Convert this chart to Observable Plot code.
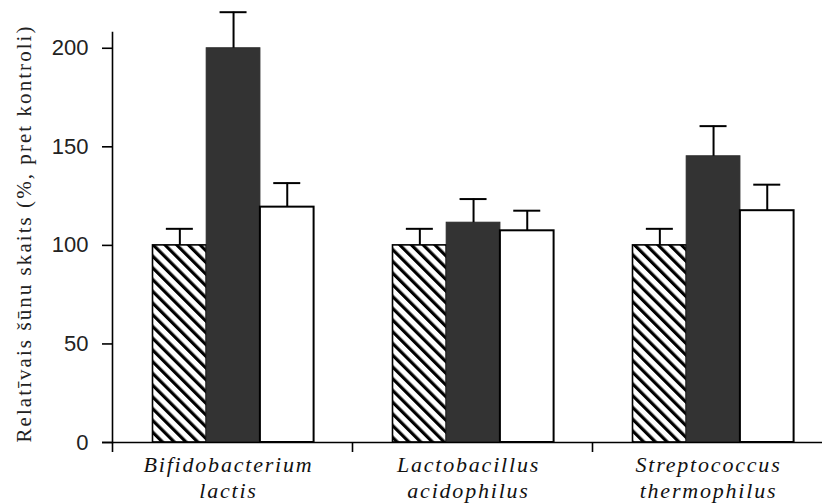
<!DOCTYPE html>
<html>
<head>
<meta charset="utf-8">
<script src="https://cdn.jsdelivr.net/npm/d3@7"></script>
<script src="https://cdn.jsdelivr.net/npm/@observablehq/plot@0.6"></script>
<style>
  html, body { margin: 0; padding: 0; background: #ffffff; }
  #chart svg { display: block; }
</style>
</head>
<body>
<div id="chart"></div>
<script>
// ---- data ----
const categories = ["Bifidobacterium\nlactis", "Lactobacillus\nacidophilus", "Streptococcus\nthermophilus"];
const seriesNames = ["kontrole", "A", "B"];
const valuesHatched = [100, 100, 100];
const errHatched = [8.4, 8.4, 8.4];
const valuesDark = [200, 111.5, 145.2];
const errDark = [18.3, 12.0, 15.3];
const valuesWhite = [119.4, 107.4, 117.6];
const errWhite = [12.2, 10.2, 13.2];
const yTicks = [0, 50, 100, 150, 200];
const yLabel = "Relatīvais šūnu skaits (%, pret kontroli)";

// ---- layout ----
const W = 822, H = 504;
const mLeft = 112, mTop = 32, mBottom = 62;
const xRange = [112, 832];
const band = (xRange[1] - xRange[0]) / categories.length;
const pad = 40.5, barW = 53.7, capW = 27;

const seriesValues = [valuesHatched, valuesDark, valuesWhite];
const seriesErr = [errHatched, errDark, errWhite];
const rows = (i) => categories.map((c, k) => ({cat: c, v: seriesValues[i][k], e: seriesErr[i][k]}));

const barStyles = [
  {fill: "url(#hatch)", stroke: "#000", strokeWidth: 1.6},
  {fill: "#333333", stroke: "#2a2a2a", strokeWidth: 1},
  {fill: "#ffffff", stroke: "#000", strokeWidth: 2}
];

const defs = () => {
  const d = d3.create("svg:defs");
  const p = d.append("pattern").attr("id", "hatch")
    .attr("patternUnits", "userSpaceOnUse")
    .attr("width", 8.3).attr("height", 8.3)
    .attr("patternTransform", "rotate(-45)");
  p.append("rect").attr("width", 8.3).attr("height", 8.3).attr("fill", "#fff");
  p.append("rect").attr("width", 3.2).attr("height", 8.3).attr("fill", "#000");
  return d.node();
};

const serifFont = "'Liberation Serif', 'Times New Roman', serif";

const marks = [defs];
seriesNames.forEach((s, i) => {
  const iL = pad + i * barW;
  const iR = band - pad - (i + 1) * barW;
  marks.push(Plot.barY(rows(i), {x: "cat", y: "v", insetLeft: iL, insetRight: iR, ...barStyles[i]}));
  marks.push(Plot.ruleX(rows(i), {x: "cat", y1: "v", y2: d => d.v + d.e, dx: -band / 2 + pad + (i + 0.5) * barW, stroke: "#000", strokeWidth: 2}));
  marks.push(Plot.tickY(rows(i), {x: "cat", y: d => d.v + d.e, insetLeft: iL + (barW - capW) / 2, insetRight: iR + (barW - capW) / 2, stroke: "#000", strokeWidth: 2}));
});

// axes
marks.push(Plot.ruleY([0], {insetLeft: -10, stroke: "#000", strokeWidth: 1.6}));
marks.push(Plot.frame({anchor: "left", stroke: "#000", strokeWidth: 1.6}));
marks.push(Plot.ruleX(categories, {x: d => d, y1: 0, y2: 0, dx: -band / 2, insetBottom: -10, stroke: "#000", strokeWidth: 1.6}));
marks.push(Plot.axisY({ticks: yTicks, tickSize: 10, tickPadding: 14, tickFormat: d => d, fontSize: 22, fontFamily: "'Liberation Sans', Arial, sans-serif", stroke: "#000", strokeWidth: 1.6, fill: "#222", label: null}));
marks.push(Plot.text(categories, {x: d => d, text: d => d, frameAnchor: "bottom", lineAnchor: "top", dy: 11, dx: -4, lineHeight: 1.17, fontSize: 22, fontStyle: "italic", fontFamily: serifFont, fill: "#111"}));
marks.push(Plot.text([yLabel], {text: d => d, frameAnchor: "left", textAnchor: "middle", rotate: -90, dx: -88, dy: -3, fontSize: 21, fontFamily: serifFont, fill: "#222"}));

const chart = Plot.plot({
  width: W, height: H,
  marginLeft: mLeft, marginRight: 0, marginTop: mTop, marginBottom: mBottom,
  style: {background: "#fff", overflow: "hidden"},
  x: {domain: categories, range: xRange, padding: 0, axis: null},
  y: {domain: [0, 208], axis: null},
  marks
});
document.getElementById("chart").appendChild(chart);

// stretch the label texts to the reference's letter spacing
d3.select(chart).selectAll("text").each(function () {
  const t = d3.select(this);
  if (t.text() === yLabel) {
    t.attr("textLength", 416).attr("lengthAdjust", "spacing");
  }
});
d3.select(chart).selectAll("text").filter(function () { return this.querySelector("tspan"); })
  .style("letter-spacing", "1.8px");
</script>
</body>
</html>
